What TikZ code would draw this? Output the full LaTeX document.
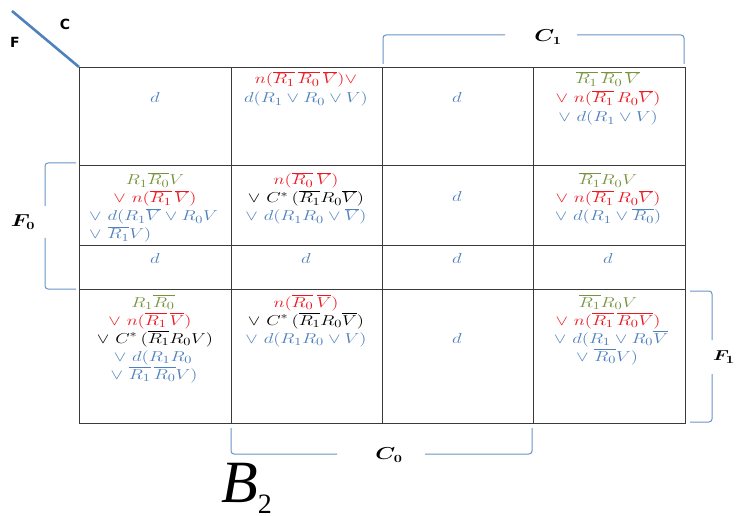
\documentclass[tikz,border=0pt]{standalone}
\usepackage{fontspec}
\usepackage{amsmath,bm}
\newfontfamily\tnr{Liberation Serif}
\newfontfamily\dsans{DejaVu Sans}
\definecolor{kgreen}{HTML}{77933C}
\definecolor{kred}{HTML}{EE1620}
\definecolor{kblue}{HTML}{4F81BD}
\definecolor{kbrack}{HTML}{6A92C6}
\definecolor{kgrid}{HTML}{3A3A3A}
\newcommand{\mt}[1]{\scalebox{1.3}[1]{$#1$}}
\newcommand{\ol}[1]{\overline{#1}}
\tikzset{
  cellbox/.style={draw=kgrid, line width=1.2pt, anchor=north west, inner sep=0pt, rectangle},
  tx/.style={anchor=base, inner sep=0pt, font=\fontsize{15}{18}\selectfont},
  txl/.style={tx, anchor=base west},
  gr/.style={text=kgreen},
  rd/.style={text=kred},
  bl/.style={text=kblue},
  bk/.style={text=black},
  brk/.style={draw=kbrack, line width=1pt, rounded corners=3pt},
  lbl/.style={inner sep=0pt, font=\fontsize{16}{18}\selectfont},
}
\begin{document}
\begin{tikzpicture}[x=1pt,y=-1pt]
\useasboundingbox (0,0) rectangle (737,516);
% grid cells
\foreach \r/\y/\h in {1/67/98, 2/165/80, 3/245/44, 4/289/134}{
  \foreach \c/\x/\w in {1/79/152, 2/231/151, 3/382/151, 4/533/152}{
    \node[cellbox, minimum width=\w pt, minimum height=\h pt] (c\r\c) at (\x,\y) {};
  }
}
% diagonal
\coordinate (dg) at (12,11);
\draw[draw=kblue, line width=2.6pt] (dg) -- (c11.north west);
\node[inner sep=0pt, font=\dsans\bfseries\fontsize{14}{16}\selectfont] (lF) at (15,42) {F};
\node[inner sep=0pt, font=\dsans\bfseries\fontsize{14}{16}\selectfont] (lC) at (65,24) {C};

% row 1
\node[tx, bl, anchor=center] (t11) at (155,98) {\mt{d}};
\node[tx, rd] (t12a) at (306,84) {\mt{n(\ol{R_1}\,\ol{R_0}\,\ol{V})\vee}};
\node[tx, bl] (t12b) at (306,103) {\mt{d(R_1\vee R_0\vee V)}};
\node[tx, bl, anchor=center] (t13) at (457,98) {\mt{d}};
\node[tx, gr] (t14a) at (608,84) {\mt{\ol{R_1}\,\ol{R_0}\,\ol{V}}};
\node[tx, rd] (t14b) at (608,103) {\mt{\vee\ n(\ol{R_1}\,R_0\ol{V})}};
\node[tx, bl] (t14c) at (608,122) {\mt{\vee\ d(R_1\vee V)}};

% row 2
\node[tx, gr] (t21a) at (155,185) {\mt{R_1\ol{R_0}V}};
\node[tx, rd] (t21b) at (155,203) {\mt{\vee\ n(\ol{R_1}\,\ol{V})}};
\node[txl, bl] (t21c) at (89,221) {\mt{\vee\ d(R_1\ol{V}\vee R_0V}};
\node[txl, bl] (t21d) at (89,239) {\mt{\vee\ \ol{R_1}V)}};
\node[tx, rd] (t22a) at (306,185) {\mt{n(\ol{R_0}\,\ol{V})}};
\node[tx, bk] (t22b) at (306,203) {\mt{\vee\ C^*\,(\ol{R_1}R_0\ol{V})}};
\node[tx, bl] (t22c) at (306,221) {\mt{\vee\ d(R_1R_0\vee\ol{V})}};
\node[tx, bl, anchor=center] (t23) at (457,196) {\mt{d}};
\node[tx, gr] (t24a) at (608,185) {\mt{\ol{R_1}R_0V}};
\node[tx, rd] (t24b) at (608,203) {\mt{\vee\ n(\ol{R_1}\,R_0\ol{V})}};
\node[tx, bl] (t24c) at (608,221) {\mt{\vee\ d(R_1\vee\ol{R_0})}};

% row 3
\node[tx, bl, anchor=center] (t31) at (155,258) {\mt{d}};
\node[tx, bl, anchor=center] (t32) at (306,258) {\mt{d}};
\node[tx, bl, anchor=center] (t33) at (457,258) {\mt{d}};
\node[tx, bl, anchor=center] (t34) at (608,258) {\mt{d}};

% row 4
\node[tx, gr] (t41a) at (153,307) {\mt{R_1\ol{R_0}}};
\node[tx, rd] (t41b) at (150,325) {\mt{\vee\ n(\ol{R_1}\,\ol{V})}};
\node[tx, bk] (t41c) at (155,343) {\mt{\vee\ C^*\,(\ol{R_1}R_0V)}};
\node[tx, bl] (t41d) at (153,361) {\mt{\vee\ d(R_1R_0}};
\node[tx, bl] (t41e) at (154,379) {\mt{\vee\ \ol{R_1}\,\ol{R_0}V)}};
\node[tx, rd] (t42a) at (306,307) {\mt{n(\ol{R_0}\,\ol{V})}};
\node[tx, bk] (t42b) at (306,325) {\mt{\vee\ C^*\,(\ol{R_1}R_0\ol{V})}};
\node[tx, bl] (t42c) at (306,343) {\mt{\vee\ d(R_1R_0\vee V)}};
\node[tx, bl, anchor=center] (t43) at (457,338) {\mt{d}};
\node[tx, gr] (t44a) at (608,307) {\mt{\ol{R_1}R_0V}};
\node[tx, rd] (t44b) at (608,325) {\mt{\vee\ n(\ol{R_1}\,\ol{R_0}\ol{V})}};
\node[tx, bl] (t44c) at (611,343) {\mt{\vee\ d(R_1\vee R_0\ol{V}}};
\node[tx, bl] (t44d) at (607,361) {\mt{\vee\ \ol{R_0}V)}};

% C1 bracket
\node[lbl] (lC1) at (548,37) {\mt{\bm{C_1}}};
\draw[brk] (383,64) -- (383,35) -- (505,35);
\draw[brk] (577,35) -- (684,35) -- (684,64);
% C0 bracket
\node[lbl] (lC0) at (389,455) {\mt{\bm{C_0}}};
\draw[brk] (231,428) -- (231,454) -- (337,454);
\draw[brk] (425,454) -- (532,454) -- (532,428);
% F0 bracket
\node[lbl] (lF0) at (23,222) {\mt{\bm{F_0}}};
\draw[brk] (76,163) -- (45,163) -- (45,206);
\draw[brk] (45,238) -- (45,289) -- (76,289);
% F1 bracket
\node[lbl, anchor=east, font=\fontsize{15}{18}\selectfont] (lF1) at (735,357) {\mt{\bm{F_1}}};
\draw[brk] (690,291) -- (712,291) -- (712,340);
\draw[brk] (712,374) -- (712,422) -- (690,422);

% B2
\node[inner sep=0pt, anchor=base west] (lB) at (221,502) {\tnr\itshape\fontsize{60}{60}\selectfont B\raisebox{-0.19em}{\upshape\fontsize{28}{28}\selectfont 2}};
\end{tikzpicture}
\end{document}
